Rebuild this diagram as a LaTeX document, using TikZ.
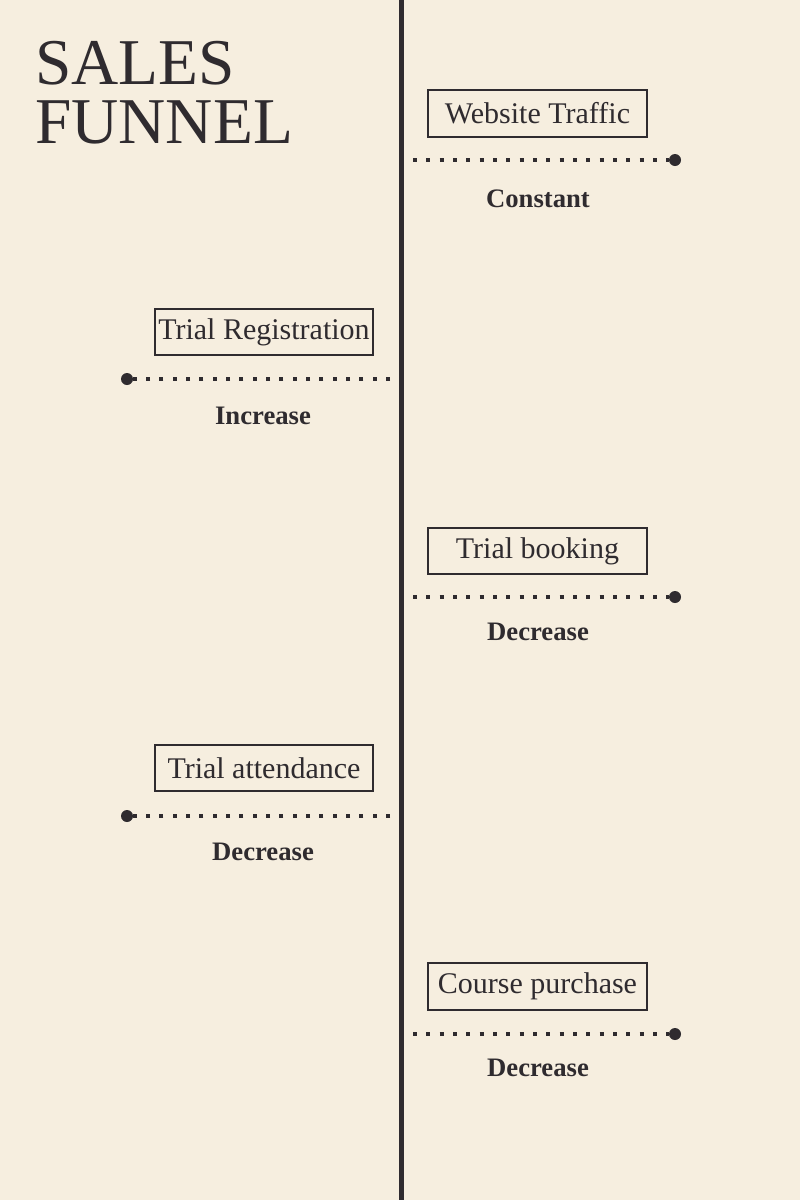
\documentclass[tikz,border=0pt]{standalone}
\usepackage{fontspec}
\setmainfont{Liberation Serif}
\definecolor{bg}{HTML}{F6EEDF}
\definecolor{ink}{HTML}{2F2B2F}
\tikzset{
  stagebox/.style={draw=ink, line width=1.5pt, text=ink, minimum width=164pt, minimum height=35pt, inner sep=0pt, font=\fontsize{22.5}{24}\selectfont},
  dotline/.style={ink, line width=3pt, dash pattern=on 3pt off 7pt},
  enddot/.style={circle, fill=ink, minimum size=9pt, inner sep=0pt},
  trend/.style={text=ink, anchor=base, font=\fontsize{20}{22}\selectfont\bfseries},
  titletext/.style={text=ink, anchor=base west, inner sep=0pt, font=\fontsize{49}{49}\selectfont}
}
\begin{document}
\begin{tikzpicture}[x=0.75pt,y=-0.75pt]
\fill[bg] (0,0) rectangle (800,1200);
\useasboundingbox (0,0) rectangle (800,1200);
% axis
\coordinate (axtop) at (401,0);
\coordinate (axbot) at (401,1200);
\draw[ink, line width=3.75pt] (axtop) -- (axbot);
% title
\node[titletext] (t1) at (35,84) {SALES};
\node[titletext] (t2) at (35,143) {FUNNEL};
% stage 1
\node[stagebox] (b1) at (537.5,113.5) {Website Traffic};
\coordinate (s1) at (413,160);
\node[enddot] (d1) at (675,160) {};
\draw[dotline] (s1) -- (d1.west);
\node[trend] (l1) at (538,207) {Constant};
% stage 2
\node[stagebox] (b2) at (264,332) {Trial Registration};
\coordinate (s2) at (390,379);
\node[enddot] (d2) at (127,379) {};
\draw[dotline] (s2) -- (d2.east);
\node[trend] (l2) at (263,424) {Increase};
% stage 3
\node[stagebox] (b3) at (537.5,551) {Trial booking};
\coordinate (s3) at (413,597);
\node[enddot] (d3) at (675,597) {};
\draw[dotline] (s3) -- (d3.west);
\node[trend] (l3) at (538,640) {Decrease};
% stage 4
\node[stagebox] (b4) at (264,768) {Trial attendance};
\coordinate (s4) at (390,816);
\node[enddot] (d4) at (127,816) {};
\draw[dotline] (s4) -- (d4.east);
\node[trend] (l4) at (263,860) {Decrease};
% stage 5
\node[stagebox] (b5) at (537.5,986.5) {Course purchase};
\coordinate (s5) at (413,1034);
\node[enddot] (d5) at (675,1034) {};
\draw[dotline] (s5) -- (d5.west);
\node[trend] (l5) at (538,1076) {Decrease};
\end{tikzpicture}
\end{document}
